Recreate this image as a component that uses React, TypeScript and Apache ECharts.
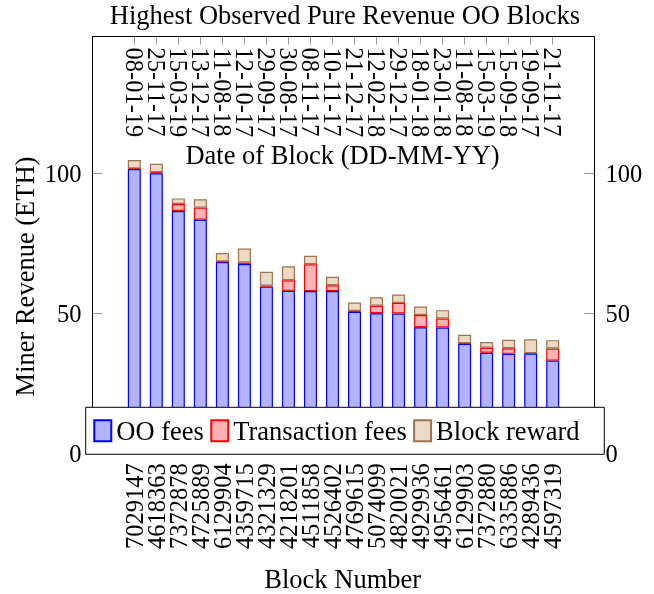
import React, { useEffect, useRef } from 'react';
import * as echarts from 'echarts';

const blockNumbers = ['7029147', '4618363', '7372878', '4725889', '6129904', '4359715', '4321329', '4218201', '4511858', '4526402', '4769615', '5074099', '4820021', '4929936', '4956461', '6129903', '7372880', '6335886', '4289436', '4597319'];
const blockDates = ['08-01-19', '25-11-17', '15-03-19', '13-12-17', '11-08-18', '12-10-17', '29-09-17', '30-08-17', '08-11-17', '10-11-17', '21-12-17', '12-02-18', '29-12-17', '18-01-18', '23-01-18', '11-08-18', '15-03-19', '15-09-18', '19-09-17', '21-11-17'];
const ooFees = [101.5, 100.0, 86.5, 83.4, 68.3, 67.6, 59.5, 58.0, 57.9, 57.9, 50.5, 50.0, 49.9, 45.0, 44.9, 39.1, 35.9, 35.5, 35.6, 33.1];
const transactionFees = [0.2, 0.35, 2.5, 4.3, 0.2, 0.5, 0.3, 3.8, 9.6, 2.1, 0.3, 2.7, 3.8, 4.4, 3.2, 0.2, 1.8, 2.0, 0.1, 4.3];
const blockReward = [3, 3, 2, 3, 3, 5, 5, 5, 3, 3, 3, 3, 3, 3, 3, 3, 2, 3, 5, 3];
const seriesNames = ['OO fees', 'Transaction fees', 'Block reward'];
const yTickStep = 50;
const yMax = 148.8;

const FONT = "'Liberation Serif', 'Times New Roman', serif";
const NUM_SIZE = 24.5;
const WORD_SIZE = 26.5;

export default function App() {
  const ref = useRef<HTMLDivElement>(null);
  useEffect(() => {
    const chart = echarts.init(ref.current!, null, { renderer: 'svg' });
    const W = 654;
    const H = 594;
    const frameL = 92.5, frameR = 594.5, frameT = 36.5, frameB = 453.3;
    const innerL = 123.3, innerR = 563.7;

    const yLabel = {
      fontFamily: FONT,
      fontSize: NUM_SIZE,
      color: '#000',
      margin: 11,
      formatter: (v: number) => (v % yTickStep === 0 ? String(v) : ''),
    };
    const yTick = { show: true, inside: true, length: 10, lineStyle: { color: '#999', width: 1 } };

    const option: any = {
      animation: false,
      grid: [
        {
          left: frameL, right: W - frameR, top: frameT, bottom: H - frameB,
          show: true, borderColor: '#000', borderWidth: 1, backgroundColor: 'transparent',
          containLabel: false, outerBoundsMode: 'none',
        },
        {
          left: innerL, right: W - innerR, top: frameT, bottom: H - frameB,
          containLabel: false, outerBoundsMode: 'none',
        },
      ],
      xAxis: [
        { type: 'value', gridIndex: 0, min: 0, max: 1, show: false },
        {
          type: 'category', gridIndex: 1, position: 'bottom', data: blockNumbers,
          axisLine: { show: false }, axisTick: { show: false },
          axisLabel: { interval: 0, rotate: 90, margin: 10, fontFamily: FONT, fontSize: NUM_SIZE, color: '#000' },
        },
        {
          type: 'category', gridIndex: 1, position: 'top', data: blockDates,
          axisLine: { show: false },
          axisTick: { show: true, inside: true, length: 8, alignWithLabel: true, interval: 0, lineStyle: { color: '#999', width: 1 } },
          axisLabel: { inside: true, interval: 0, rotate: 90, margin: 11, fontFamily: FONT, fontSize: NUM_SIZE, color: '#000' },
        },
      ],
      yAxis: [
        {
          type: 'value', gridIndex: 0, position: 'left', min: 0, max: yMax, interval: yTickStep,
          axisLine: { show: false }, splitLine: { show: false }, axisTick: yTick, axisLabel: yLabel,
        },
        {
          type: 'value', gridIndex: 0, position: 'right', min: 0, max: yMax, interval: yTickStep,
          axisLine: { show: false }, splitLine: { show: false }, axisTick: yTick, axisLabel: yLabel,
        },
        { type: 'value', gridIndex: 1, min: 0, max: yMax, show: false },
      ],
      legend: {
        data: seriesNames,
        left: 85.7, top: 407.3,
        orient: 'horizontal',
        icon: 'rect',
        itemWidth: 17, itemHeight: 21, itemGap: 6.4,
        padding: [10, 24.7, 10, 7.6],
        backgroundColor: '#fff', borderColor: '#000', borderWidth: 1,
        textStyle: { fontFamily: FONT, fontSize: WORD_SIZE, color: '#000' },
        z: 10,
      },
      series: [
        {
          name: seriesNames[0], type: 'bar', stack: 'total', xAxisIndex: 1, yAxisIndex: 2,
          data: ooFees, barWidth: 13,
          itemStyle: { color: '#b3b3ff', borderColor: '#0000ff', borderWidth: 1.2 },
        },
        {
          name: seriesNames[1], type: 'bar', stack: 'total', xAxisIndex: 1, yAxisIndex: 2,
          data: transactionFees, barWidth: 13,
          itemStyle: { color: '#ffb3b3', borderColor: '#ff0000', borderWidth: 1.2 },
        },
        {
          name: seriesNames[2], type: 'bar', stack: 'total', xAxisIndex: 1, yAxisIndex: 2,
          data: blockReward, barWidth: 13,
          itemStyle: { color: '#ecd9c6', borderColor: '#9c7450', borderWidth: 1.2 },
        },
      ],
      graphic: [
        {
          type: 'rect', z: 5, silent: true,
          shape: { x: frameL, y: frameT, width: frameR - frameL, height: frameB - frameT },
          style: { fill: 'none', stroke: '#000', lineWidth: 1 },
        },
        {
          type: 'text', x: 345, y: 15, z: 20,
          style: { text: 'Highest Observed Pure Revenue OO Blocks', fontFamily: FONT, fontSize: WORD_SIZE, fill: '#000', textAlign: 'center', textVerticalAlign: 'middle', align: 'center', verticalAlign: 'middle' },
        },
        {
          type: 'text', x: 342.5, y: 155, z: 20,
          style: { text: 'Date of Block (DD-MM-YY)', fontFamily: FONT, fontSize: WORD_SIZE, fill: '#000', textAlign: 'center', textVerticalAlign: 'middle', align: 'center', verticalAlign: 'middle' },
        },
        {
          type: 'text', x: 342.7, y: 579, z: 20,
          style: { text: 'Block Number', fontFamily: FONT, fontSize: WORD_SIZE, fill: '#000', textAlign: 'center', textVerticalAlign: 'middle', align: 'center', verticalAlign: 'middle' },
        },
        {
          type: 'text', x: 25, y: 276.5, rotation: Math.PI / 2, z: 20,
          style: { text: 'Miner Revenue (ETH)', fontFamily: FONT, fontSize: WORD_SIZE, fill: '#000', textAlign: 'center', textVerticalAlign: 'middle', align: 'center', verticalAlign: 'middle' },
        },
      ],
    };
    chart.setOption(option);
    return () => chart.dispose();
  }, []);
  return <div ref={ref} style={{ position: 'fixed', left: 0, top: 0, width: 654, height: 594 }} />;
}
